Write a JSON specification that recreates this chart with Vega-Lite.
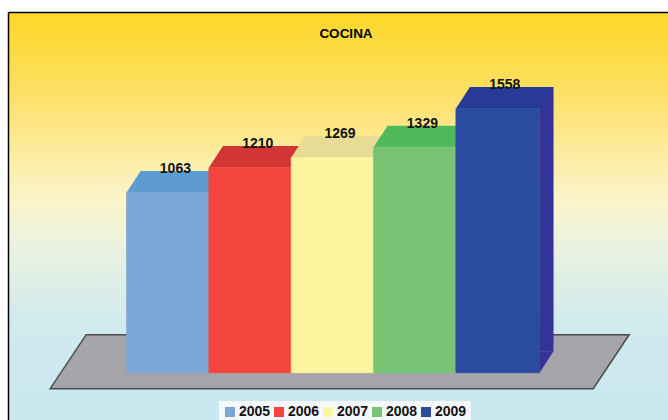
{
  "$schema": "https://vega.github.io/schema/vega-lite/v6.json",
  "width": 660,
  "height": 408,
  "autosize": {"type": "none"},
  "padding": {"left": 8, "top": 12, "right": 0, "bottom": 0},
  "background": "white",
  "config": {"view": {"stroke": null}},
  "title": {
    "text": "COCINA",
    "anchor": "middle",
    "frame": "group",
    "offset": -25.5,
    "baseline": "alphabetic",
    "dx": 8,
    "dy": 13.5,
    "font": "Liberation Sans",
    "fontSize": 13.5,
    "fontWeight": "bold",
    "color": "#000"
  },
  "data": {
    "values": [
      {"year": 2005, "value": 1063},
      {"year": 2006, "value": 1210},
      {"year": 2007, "value": 1269},
      {"year": 2008, "value": 1329},
      {"year": 2009, "value": 1558}
    ]
  },
  "encoding": {
    "x": {
      "field": "year",
      "type": "quantitative",
      "scale": {"domain": [2003.1124, 2011.0072], "nice": false, "zero": false},
      "axis": {"orient": "top", "labels": false, "ticks": false, "grid": false, "title": null, "domain": true, "domainColor": "#000", "domainWidth": 1.5, "zindex": 1}
    },
    "y": {
      "field": "value",
      "type": "quantitative",
      "scale": {"domain": [-278.9, 2126.7], "nice": false, "zero": false},
      "axis": {"orient": "left", "labels": false, "ticks": false, "grid": false, "title": null, "domain": true, "domainColor": "#000", "domainWidth": 1.5, "zindex": 1}
    }
  },
  "layer": [
    {
      "data": {"values": [{}]},
      "mark": {
        "type": "rect",
        "fill": {
          "gradient": "linear",
          "x1": 0, "y1": 0, "x2": 0, "y2": 1,
          "stops": [
            {"offset": 0, "color": "#FDD72A"},
            {"offset": 0.12, "color": "#FDDC4A"},
            {"offset": 0.24, "color": "#FDE376"},
            {"offset": 0.36, "color": "#FCEDA6"},
            {"offset": 0.46, "color": "#FAF4C8"},
            {"offset": 0.55, "color": "#EEF3DE"},
            {"offset": 0.66, "color": "#DDEEE6"},
            {"offset": 0.78, "color": "#D0EAEE"},
            {"offset": 1, "color": "#C9E7EF"}
          ]
        }
      },
      "encoding": {
        "x": {"value": 0},
        "x2": {"value": "width"},
        "y": {"value": 0},
        "y2": {"value": "height"}
      }
    },
    {
      "transform": [{"filter": "datum.year == 2007"}],
      "mark": {
        "type": "point",
        "shape": "M-0.823,-0.1267L0.987,-0.1267L0.867,0.0533L-0.943,0.0533Z",
        "size": 360000,
        "filled": true,
        "opacity": 1,
        "color": "#A5A4A8",
        "stroke": "#4A4A4A",
        "strokeWidth": 1.5
      },
      "encoding": {
        "y": {"datum": 0, "type": "quantitative"}
      }
    },
    {
      "mark": {"type": "bar", "orient": "vertical", "width": 14, "xOffset": 48.8, "yOffset": -21.5, "y2Offset": -21.5},
      "encoding": {
        "y2": {"datum": 0},
        "fill": {"field": "year", "type": "nominal", "scale": {"range": ["#4F7FB8", "#B02A28", "#CFC47A", "#3F9A48", "#33339A"]}, "legend": null}
      }
    },
    {
      "mark": {"type": "point", "shape": "M1,-0.5144L1.335,-0.5144L1,0Z", "size": 6989, "filled": true, "opacity": 1, "strokeWidth": 0},
      "encoding": {
        "y": {"datum": 0, "type": "quantitative"},
        "fill": {"field": "year", "type": "nominal", "scale": {"range": ["#4F7FB8", "#B02A28", "#CFC47A", "#3F9A48", "#33339A"]}, "legend": null}
      }
    },
    {
      "mark": {"type": "point", "shape": "M-1,0L1,0L1.335,-0.5144L-0.665,-0.5144Z", "size": 6989, "filled": true, "opacity": 1, "strokeWidth": 0},
      "encoding": {
        "fill": {"field": "year", "type": "nominal", "scale": {"range": ["#5E9BD2", "#D33535", "#E6DC93", "#50B95A", "#283A98"]}, "legend": null}
      }
    },
    {
      "mark": {"type": "bar", "orient": "vertical", "width": 83.6, "strokeWidth": 0.8},
      "encoding": {
        "y2": {"datum": 0},
        "stroke": {"field": "year", "type": "nominal", "scale": {"range": ["#7BA7D8", "#F2463C", "#FDF4A0", "#79C375", "#2A4BA0"]}, "legend": null},
        "fill": {
          "field": "year",
          "type": "nominal",
          "scale": {"range": ["#7BA7D8", "#F2463C", "#FDF4A0", "#79C375", "#2A4BA0"]},
          "legend": {
            "title": null,
            "orient": "none",
            "legendX": 211,
            "legendY": 389,
            "direction": "horizontal",
            "symbolType": "square",
            "symbolSize": 100,
            "symbolStrokeWidth": 0,
            "labelFont": "Liberation Sans",
            "labelFontSize": 14,
            "labelFontWeight": "bold",
            "labelColor": "#111",
            "labelOffset": 2,
            "columnPadding": 1,
            "padding": 4,
            "fillColor": "#F5F8FB"
          }
        }
      }
    },
    {
      "mark": {
        "type": "text",
        "dx": 7,
        "dy": -23.5,
        "baseline": "middle",
        "align": "center",
        "font": "Liberation Sans",
        "fontSize": 14,
        "fontWeight": "bold",
        "color": "#111"
      },
      "encoding": {
        "text": {"field": "value", "type": "quantitative", "format": "d"}
      }
    }
  ],
  "resolve": {"scale": {"fill": "independent", "stroke": "independent"}, "legend": {"fill": "independent", "stroke": "independent"}}
}
